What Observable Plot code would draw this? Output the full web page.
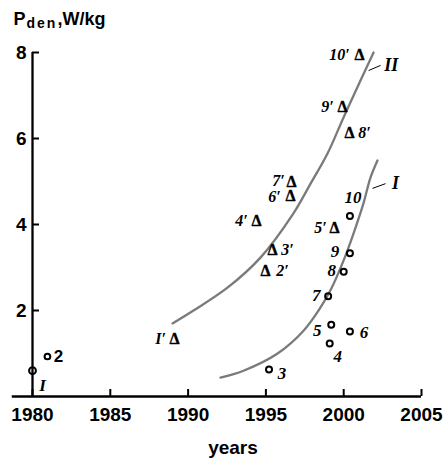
<!DOCTYPE html>
<html>
<head>
<meta charset="utf-8">
<script src="https://cdn.jsdelivr.net/npm/d3@7"></script>
<script src="https://cdn.jsdelivr.net/npm/@observablehq/plot@0.6"></script>
<style>
  html, body { margin: 0; padding: 0; background: #fff; }
  #chart svg { display: block; }
</style>
</head>
<body>
<div id="chart"></div>
<script>
// ---- data ----
const xTicks = [1980, 1985, 1990, 1995, 2000, 2005];
const yTicks = [2, 4, 6, 8];
const xAxisStart = 1978.7;

const circleLabel = ["I", "2", "3", "4", "5", "6", "7", "8", "9", "10"];
const circleYear  = [1980, 1980.96, 1995.2, 1999.1, 1999.2, 2000.4, 1999.0, 2000.0, 2000.4, 2000.4];
const circleValue = [0.60, 0.93, 0.63, 1.23, 1.67, 1.51, 2.33, 2.90, 3.33, 4.20];

const triLabel = ["I′", "2′", "3′", "4′", "5′", "6′", "7′", "8′", "9′", "10′"];
const triYear  = [1989.13, 1994.97, 1995.42, 1994.40, 1999.41, 1996.58, 1996.65, 2000.37, 1999.92, 2001.02];
const triValue = [1.35, 2.91, 3.40, 4.09, 3.91, 4.67, 5.00, 6.12, 6.74, 7.95];

const curveIYear  = [1992.08, 1993.56, 1995.75, 1997.42, 1998.51, 1999.15, 1999.99, 2000.63, 2001.27, 2001.72, 2002.17];
const curveIValue = [0.44, 0.60, 1.00, 1.53, 2.07, 2.47, 3.16, 3.79, 4.49, 5.09, 5.49];
const curveIIYear  = [1989.0, 1990.35, 1992.53, 1994.65, 1996.77, 1997.87, 1998.96, 1999.99, 2001.08, 2001.92];
const curveIIValue = [1.70, 2.00, 2.53, 3.23, 4.26, 4.95, 5.65, 6.49, 7.35, 8.00];

const curveNames = ["I", "II"];
const curveLabelYear  = [2003.33, 2003.05];
const curveLabelValue = [4.95, 7.70];
const leaderYear1  = [2001.85, 2001.6];
const leaderValue1 = [4.84, 7.58];
const leaderYear2  = [2002.69, 2002.37];
const leaderValue2 = [4.95, 7.70];

// ---- layout / style (not data) ----
const circleOffsets = {
  "I": [10, 15], "2": [11, 0], "3": [13, 4], "4": [8, 13], "5": [-14, 6],
  "6": [14, 1], "7": [-12, -1], "8": [-12, -1], "9": [-15, -2], "10": [3, -18]
};
const triOffsets = {
  "I′": [-14, 0], "2′": [17, 0], "3′": [15, 0], "4′": [-15, 0], "5′": [-14, 0],
  "6′": [-16, 1], "7′": [-13, -1], "8′": [15, 0], "9′": [-15, 0], "10′": [-20, 0]
};
const SANS = "Liberation Sans, Arial, Helvetica, sans-serif";
const SERIF = "Liberation Serif, Times New Roman, serif";
const TICK = 7;

const curveI = curveIYear.map((x, i) => ({x, y: curveIValue[i]}));
const curveII = curveIIYear.map((x, i) => ({x, y: curveIIValue[i]}));
const idx10 = d3.range(circleLabel.length);

const circleTextMarks = circleLabel.map((t, i) => Plot.text([i], {
  x: j => circleYear[j], y: j => circleValue[j], text: j => circleLabel[j],
  dx: circleOffsets[t][0], dy: circleOffsets[t][1],
  fontFamily: t === "2" ? SANS : SERIF,
  fontStyle: t === "2" ? "normal" : "italic",
  fontWeight: "bold", fontSize: 17, fill: "black"
}));
const triTextMarks = triLabel.map((t, i) => Plot.text([i], {
  x: j => triYear[j], y: j => triValue[j], text: j => triLabel[j],
  dx: triOffsets[t][0], dy: triOffsets[t][1], fontFamily: SERIF, fontStyle: "italic",
  fontWeight: "bold", fontSize: 16, fill: "black"
}));

const chart = Plot.plot({
  width: 445,
  height: 462,
  marginLeft: 32,
  marginRight: 24,
  marginTop: 52,
  marginBottom: 66,
  style: {fontFamily: SANS, background: "white", color: "black", overflow: "visible"},
  x: {domain: [d3.min(xTicks), d3.max(xTicks)], axis: null},
  y: {domain: [0, d3.max(yTicks)], axis: null},
  marks: [
    Plot.line(curveI, {x: "x", y: "y", curve: "catmull-rom", stroke: "#7a7a7a", strokeWidth: 2.3}),
    Plot.line(curveII, {x: "x", y: "y", curve: "catmull-rom", stroke: "#7a7a7a", strokeWidth: 2.3}),
    // axes lines
    Plot.ruleY([0], {x1: xAxisStart, x2: d3.max(xTicks), stroke: "black", strokeWidth: 2.3}),
    Plot.ruleX([d3.min(xTicks)], {y1: 0, y2: d3.max(yTicks), stroke: "black", strokeWidth: 2.3}),
    // tick labels (as text marks positioned by the scales)
    Plot.text(xTicks, {x: d => d, y: () => 0, text: d => String(d), lineAnchor: "top", dy: 11,
      fontSize: 19, fontWeight: "bold", fill: "black"}),
    Plot.text(yTicks, {x: () => d3.min(xTicks), y: d => d, text: d => String(d), textAnchor: "end", dx: -6,
      fontSize: 19, fontWeight: "bold", fill: "black"}),
    // leaders for curve labels
    Plot.link(d3.range(2), {x1: i => leaderYear1[i], y1: i => leaderValue1[i],
      x2: i => leaderYear2[i], y2: i => leaderValue2[i], stroke: "black", strokeWidth: 1}),
    Plot.text(d3.range(2), {x: i => curveLabelYear[i], y: i => curveLabelValue[i], text: i => curveNames[i],
      fontFamily: SERIF, fontStyle: "italic", fontWeight: "bold", fontSize: 18, fill: "black"}),
    // circles
    Plot.dot(idx10, {x: i => circleYear[i], y: i => circleValue[i],
      r: i => i === 0 ? 5.5 : (i === 1 ? 3.8 : 4.2), stroke: "black", strokeWidth: 2, fill: "none"}),
    ...circleTextMarks,
    // triangles (Δ glyphs)
    Plot.text(idx10, {x: i => triYear[i], y: i => triValue[i], text: () => "Δ",
      fontFamily: SERIF, fontWeight: "bold", fontSize: 16, fill: "black", stroke: "black", strokeWidth: 0.4}),
    ...triTextMarks,
    // titles
    Plot.text(["P"], {frameAnchor: "top-left", dx: -19, dy: -28, lineAnchor: "bottom", textAnchor: "start",
      fontSize: 18, fontWeight: "bold", fill: "black"}),
    Plot.text(["den"], {frameAnchor: "top-left", dx: -6, dy: -25, lineAnchor: "bottom", textAnchor: "start",
      fontSize: 14, fontWeight: "bold", fill: "black"}),
    Plot.text([",W/kg"], {frameAnchor: "top-left", dx: 25, dy: -28, lineAnchor: "bottom", textAnchor: "start",
      fontSize: 18, fontWeight: "bold", fill: "black"}),
    Plot.text(["years"], {frameAnchor: "bottom", dx: 6, dy: 57, lineAnchor: "bottom",
      fontSize: 19, fontWeight: "bold", fill: "black"}),
    // inward tick marks, drawn last (zero-length rules extended by negative insets)
    Plot.ruleX(xTicks, {x: d => d, y1: () => 0, y2: () => 0, insetTop: -TICK, stroke: "black", strokeWidth: 2}),
    Plot.ruleY(yTicks, {y: d => d, x1: () => d3.min(xTicks), x2: () => d3.min(xTicks), insetRight: -TICK,
      stroke: "black", strokeWidth: 2})
  ]
});
d3.select(chart).selectAll("text").filter(function() { return this.textContent === "den"; })
  .attr("letter-spacing", "2");
document.getElementById("chart").appendChild(chart);
</script>
</body>
</html>
